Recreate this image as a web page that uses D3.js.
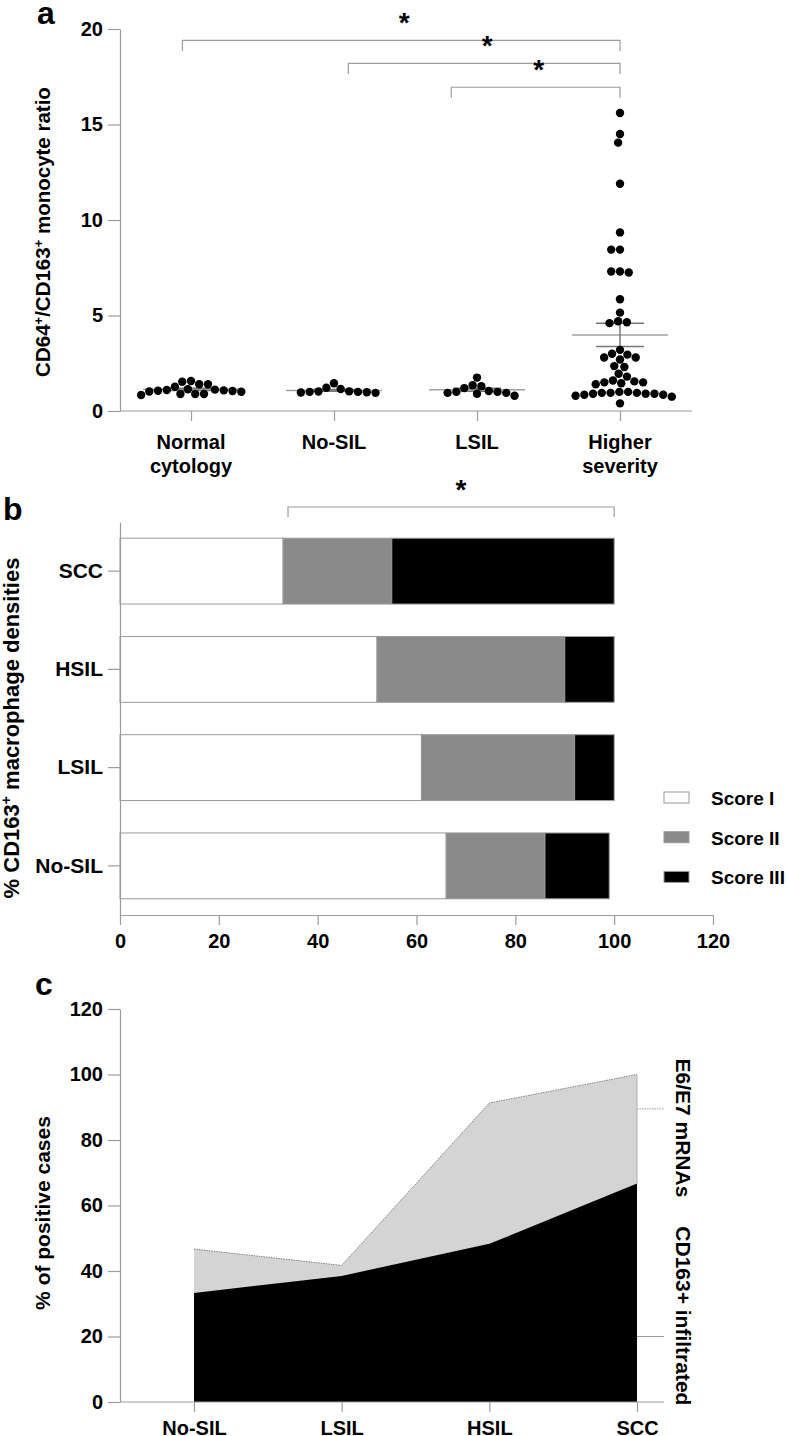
<!DOCTYPE html>
<html>
<head>
<meta charset="utf-8">
<script src="https://cdn.jsdelivr.net/npm/d3@7"></script>
<style>
  body { margin: 0; background: #fff; }
  svg text { font-family: "Liberation Sans", Arial, Helvetica, sans-serif; font-weight: bold; fill: #000; }
</style>
</head>
<body>
<svg id="fig" width="788" height="1436"></svg>
<script>
// ---- panel a : CD64+/CD163+ ratio per group
const groupsA = ['Normal cytology', 'No-SIL', 'LSIL', 'Higher severity'];
const normalVals = [1.40, 1.06, 1.27, 1.01, 1.12, 1.57, 0.89, 1.08, 1.53, 0.84, 1.14, 0.89, 1.05, 0.89, 1.10, 1.02, 1.40];
const noSilVals = [0.98, 1.0, 1.02, 1.15, 0.95, 1.22, 1.45, 1.0, 0.97, 1.03];
const lsilVals = [1.0, 0.9, 1.0, 1.2, 1.35, 1.75, 1.05, 1.3, 0.95, 0.95, 0.8];
const higherVals = [15.6, 14.5, 14.05, 11.9, 9.35, 8.45, 8.45, 7.3, 7.25, 7.3, 5.85, 5.15, 4.7, 4.6, 4.65,
  3.2, 2.95, 2.8, 2.7, 2.8, 3.0, 2.35, 2.3, 1.95, 1.8, 1.6, 1.5, 1.4, 1.45, 1.5, 1.55,
  1.0, 0.95, 0.9, 0.95, 0.85, 0.9, 0.95, 1.0, 0.4, 0.85, 0.8, 0.9, 0.75];
const ticksA = [0, 5, 10, 15, 20];
// significance brackets: from/to in group index units, level in ratio units
const bracketsA = [
  { from: -0.06, to: 3, level: 19.4 },
  { from: 1.1, to: 3, level: 18.2 },
  { from: 1.82, to: 3, level: 16.95 }
];

// ---- panel b : CD163+ macrophage density scores
const catsB = ['SCC', 'HSIL', 'LSIL', 'No-SIL'];
const score1 = [33, 52, 61, 66];
const score2 = [22, 38, 31, 20];
const score3 = [45, 10, 8, 13];
const scoreNames = ['Score I', 'Score II', 'Score III'];
const ticksB = [0, 20, 40, 60, 80, 100, 120];
const bracketB = { from: 34, to: 100 };

// ---- panel c : % of positive cases
const catsC = ['No-SIL', 'LSIL', 'HSIL', 'SCC'];
const e6e7 = [46.7, 41.7, 91.3, 100];
const cd163 = [33.3, 38.5, 48.3, 66.7];
const ticksC = [0, 20, 40, 60, 80, 100, 120];
const seriesC = ['E6/E7 mRNAs', 'CD163+ infiltrated'];
const seriesTicksC = [89.5, 20];
const seriesLabelAt = [83.7, 26.3];

const svg = d3.select('#fig');
const axisGray = '#9c9c9c';

svg.append('rect').attr('width', 788).attr('height', 1436).attr('fill', '#fff');

function styleAxis(g, size) {
  g.selectAll('line').attr('stroke', axisGray).attr('stroke-width', 1.2);
  g.selectAll('path.domain').attr('stroke', axisGray).attr('stroke-width', 1.2);
  g.selectAll('text').attr('font-size', size || 20).attr('fill', '#000');
}

function panelLetter(txt, x, y) {
  svg.append('text').attr('x', x).attr('y', y).attr('font-size', 32).text(txt);
}

// simple beeswarm: each dot goes to the free x spot nearest the centre
function swarm(vals, yScale, D) {
  const pts = vals.map(v => ({ v, y: yScale(v), x: 0 }));
  const order = pts.slice().sort((a, b) => a.y - b.y);
  const placed = [];
  order.forEach(p => {
    const cands = [0];
    placed.forEach(q => {
      const dy = Math.abs(q.y - p.y);
      if (dy < D) {
        const dx = Math.sqrt(D * D - dy * dy);
        cands.push(q.x - dx, q.x + dx);
      }
    });
    cands.sort((a, b) => Math.abs(a) - Math.abs(b));
    for (const c of cands) {
      if (placed.every(q => (q.x - c) ** 2 + (q.y - p.y) ** 2 >= D * D - 0.01)) { p.x = c; break; }
    }
    placed.push(p);
  });
  return pts;
}

function star(x, y) {
  svg.append('text').attr('x', x).attr('y', y + 4)
    .attr('text-anchor', 'middle').attr('font-size', 28).attr('font-weight', 'normal').text('*');
}

// ================= panel a =================
panelLetter('a', 37, 24);
const yA = d3.scaleLinear().domain([0, 20]).range([411, 29]);
const xA = d3.scalePoint().domain(groupsA).range([191, 620]);
const idxA = d3.scaleLinear().domain([0, 3]).range([191, 620]);

svg.append('g').attr('transform', 'translate(120,0)')
  .call(d3.axisLeft(yA).tickValues(ticksA).tickSize(12).tickPadding(5).tickSizeOuter(0))
  .call(g => styleAxis(g));

svg.append('line').attr('x1', 120).attr('x2', 692).attr('y1', yA(0)).attr('y2', yA(0))
  .attr('stroke', axisGray).attr('stroke-width', 1.2);
const gxA = svg.append('g').attr('transform', `translate(0,${yA(0)})`)
  .call(d3.axisBottom(xA).tickSize(10).tickFormat(''));
gxA.select('.domain').remove();
styleAxis(gxA);

groupsA.forEach(name => {
  const t = svg.append('text').attr('text-anchor', 'middle').attr('font-size', 20);
  name.split(' ').forEach((w, i) => {
    t.append('tspan').attr('x', xA(name)).attr('y', 449 + i * 24).text(w);
  });
});

const yLabA = svg.append('text').attr('transform', `translate(50,${232}) rotate(-90)`)
  .attr('text-anchor', 'middle').attr('font-size', 20.5);
yLabA.append('tspan').text('CD64');
yLabA.append('tspan').attr('font-size', 13).attr('baseline-shift', 'super').text('+');
yLabA.append('tspan').text('/CD163');
yLabA.append('tspan').attr('font-size', 13).attr('baseline-shift', 'super').text('+');
yLabA.append('tspan').text(' monocyte ratio');

const valuesA = [normalVals, noSilVals, lsilVals, higherVals];
valuesA.forEach((vals, gi) => {
  const cx = xA(groupsA[gi]);
  const m = d3.mean(vals);
  const sem = d3.deviation(vals) / Math.sqrt(vals.length);
  const g = svg.append('g').attr('stroke', '#a0a0a0').attr('stroke-width', 1.5);
  g.append('line').attr('x1', cx - 48).attr('x2', cx + 48).attr('y1', yA(m)).attr('y2', yA(m));
  g.append('line').attr('x1', cx).attr('x2', cx).attr('y1', yA(m - sem)).attr('y2', yA(m + sem)).attr('stroke', '#777');
  [m - sem, m + sem].forEach(v => {
    g.append('line').attr('x1', cx - 24).attr('x2', cx + 24).attr('y1', yA(v)).attr('y2', yA(v)).attr('stroke', '#777');
  });
  svg.append('g').selectAll('circle').data(swarm(vals, yA, 8.8)).join('circle')
    .attr('cx', d => cx + d.x).attr('cy', d => d.y).attr('r', 4.2).attr('fill', '#000');
});

bracketsA.forEach(b => {
  const x1 = idxA(b.from), x2 = idxA(b.to), y = yA(b.level), y2 = yA(b.level - 0.55);
  svg.append('path').attr('d', `M${x1},${y2}V${y}H${x2}V${y2}`)
    .attr('fill', 'none').attr('stroke', axisGray).attr('stroke-width', 1.2);
  star((x1 + x2) / 2 + 3, y - 12);
});

// ================= panel b =================
panelLetter('b', 3, 520);
const xB = d3.scaleLinear().domain([0, 120]).range([120, 713]);
const yB = d3.scaleBand().domain(catsB).range([522, 915]).paddingInner(0.33).paddingOuter(0.165);

const rowsB = catsB.map((c, i) => ({ cat: c, s1: score1[i], s2: score2[i], s3: score3[i] }));
const stackB = d3.stack().keys(['s1', 's2', 's3'])(rowsB);
const fillsB = ['#ffffff', '#8a8a8a', '#000000'];

svg.append('g').selectAll('g').data(stackB).join('g')
  .attr('fill', (d, i) => fillsB[i])
  .selectAll('rect').data(d => d).join('rect')
  .attr('x', d => xB(d[0])).attr('width', d => xB(d[1]) - xB(d[0]))
  .attr('y', d => yB(d.data.cat)).attr('height', yB.bandwidth())
  .attr('stroke', '#9a9a9a').attr('stroke-width', 1);

svg.append('g').attr('transform', 'translate(120,0)')
  .call(d3.axisLeft(yB).tickSize(12).tickPadding(5).tickSizeOuter(0))
  .call(g => styleAxis(g, 21));
svg.append('g').attr('transform', 'translate(0,915)')
  .call(d3.axisBottom(xB).tickValues(ticksB).tickSize(10).tickPadding(9).tickSizeOuter(0))
  .call(g => styleAxis(g));

const yLabB = svg.append('text').attr('transform', `translate(19,${728}) rotate(-90)`)
  .attr('text-anchor', 'middle').attr('font-size', 22);
yLabB.append('tspan').text('% CD163');
yLabB.append('tspan').attr('font-size', 14).attr('baseline-shift', 'super').text('+');
yLabB.append('tspan').text(' macrophage densities');

{
  const x1 = xB(bracketB.from), x2 = xB(bracketB.to);
  const y = yB.range()[0] - 15, y2 = y + 10;
  svg.append('path').attr('d', `M${x1},${y2}V${y}H${x2}V${y2}`)
    .attr('fill', 'none').attr('stroke', axisGray).attr('stroke-width', 1.2);
  star(xB(69), y - 12);
}

const legB = svg.append('g').attr('transform', 'translate(664,792)');
scoreNames.forEach((s, i) => {
  legB.append('rect').attr('x', 0).attr('y', i * 39.7).attr('width', 25).attr('height', 11)
    .attr('fill', fillsB[i]).attr('stroke', '#9a9a9a').attr('stroke-width', 1);
  legB.append('text').attr('x', 47).attr('y', i * 39.7 + 13).attr('font-size', 19).text(s);
});

// ================= panel c =================
panelLetter('c', 35, 995);
const yC = d3.scaleLinear().domain([0, 120]).range([1402, 1009]);
const xC = d3.scalePoint().domain(catsC).range([194, 637]);

const areaC = d3.area().x((d, i) => xC(catsC[i])).y0(yC(0)).y1(d => yC(d));
const lineC = d3.line().x((d, i) => xC(catsC[i])).y(d => yC(d));

svg.append('path').attr('d', areaC(e6e7)).attr('fill', '#d4d4d4');
svg.append('path').attr('d', lineC(e6e7)).attr('fill', 'none')
  .attr('stroke', '#808080').attr('stroke-width', 1).attr('stroke-dasharray', '1.5,1');
svg.append('path').attr('d', areaC(cd163)).attr('fill', '#000');
svg.append('line').attr('x1', xC('SCC')).attr('x2', xC('SCC'))
  .attr('y1', yC(e6e7[3])).attr('y2', yC(cd163[3])).attr('stroke', '#b0b0b0').attr('stroke-width', 1);

svg.append('g').attr('transform', 'translate(120,0)')
  .call(d3.axisLeft(yC).tickValues(ticksC).tickSize(12).tickPadding(5).tickSizeOuter(0))
  .call(g => styleAxis(g));

svg.append('line').attr('x1', 120).attr('x2', 664).attr('y1', yC(0)).attr('y2', yC(0))
  .attr('stroke', axisGray).attr('stroke-width', 1.2);
const gxC = svg.append('g').attr('transform', `translate(0,${yC(0)})`)
  .call(d3.axisBottom(xC).tickSize(10).tickPadding(9));
gxC.select('.domain').remove();
styleAxis(gxC);

seriesTicksC.forEach((v, i) => {
  svg.append('line').attr('x1', xC('SCC')).attr('x2', 664).attr('y1', yC(v)).attr('y2', yC(v))
    .attr('stroke', axisGray).attr('stroke-width', 1)
    .attr('stroke-dasharray', i === 0 ? '1.5,1' : null);
  svg.append('text').attr('transform', `translate(676,${yC(seriesLabelAt[i])}) rotate(90)`)
    .attr('text-anchor', 'middle').attr('font-size', 21).text(seriesC[i]);
});

svg.append('text').attr('transform', `translate(50,${1213}) rotate(-90)`)
  .attr('text-anchor', 'middle').attr('font-size', 21).text('% of positive cases');
</script>
</body>
</html>
